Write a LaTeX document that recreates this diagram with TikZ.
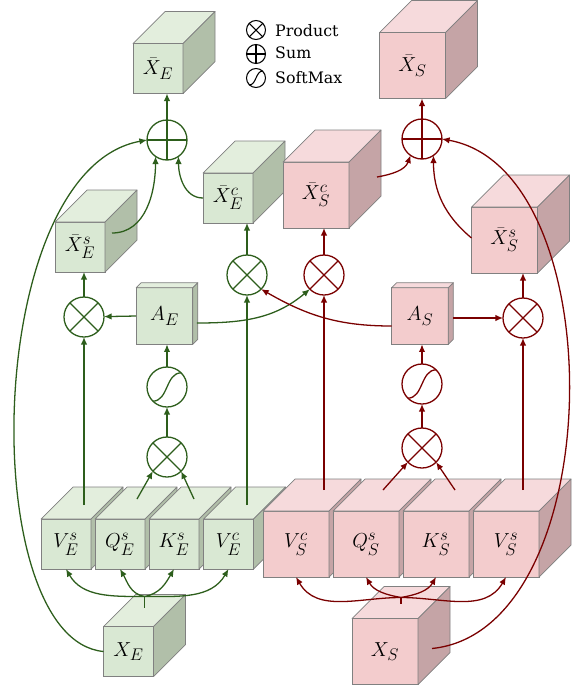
\documentclass[tikz,border=0pt]{standalone}
\usepackage{amsmath}
\usepackage{fontspec}
\usetikzlibrary{arrows.meta,calc}
\newfontfamily\leyenda{DejaVu Serif}
\DeclareMathSizes{17.28}{17.28}{14.4}{12}
\definecolor{lineaE}{RGB}{45,94,28}
\definecolor{lineaS}{RGB}{122,0,0}
\definecolor{frenteE}{RGB}{217,232,211}
\definecolor{tapaE}{RGB}{227,238,221}
\definecolor{ladoE}{RGB}{177,191,169}
\definecolor{frenteS}{RGB}{243,204,205}
\definecolor{tapaS}{RGB}{246,218,220}
\definecolor{ladoS}{RGB}{197,164,166}
\definecolor{borde}{RGB}{128,128,128}
\newcommand{\etiqueta}{\fontsize{17.28}{21}\selectfont}
% caras de arriba y de la derecha de un cubo
\newcommand{\caras}[5]{%
  \filldraw[fill=#4,draw=borde,line width=0.6pt,line join=round] (#1.north west) -- ++(#2,#3) -- ([shift={(#2,#3)}]#1.north east) -- (#1.north east) -- cycle;
  \filldraw[fill=#5,draw=borde,line width=0.6pt,line join=round] (#1.north east) -- ([shift={(#2,#3)}]#1.north east) -- ([shift={(#2,#3)}]#1.south east) -- (#1.south east) -- cycle;}
% simbolos dentro de los circulos
\newcommand{\prodop}[2]{\draw[#2] (#1.north west) -- (#1.south east) (#1.north east) -- (#1.south west);}
\newcommand{\sumop}[2]{\draw[#2] (#1.north) -- (#1.south) (#1.west) -- (#1.east);}
\newcommand{\softop}[2]{\draw[#2] (#1.south west) .. controls ($(#1.south west)!0.55!(#1.south east)$) and ($(#1.north west)!0.45!(#1.north east)$) .. (#1.north east);}

\begin{document}
\begin{tikzpicture}[x=0.03cm,y=0.03cm,
  cuboE/.style={draw=borde,fill=frenteE,line width=0.6pt,minimum size=1.5cm,inner sep=0pt,outer sep=0pt,font=\etiqueta},
  cuboS/.style={cuboE,fill=frenteS,minimum size=1.98cm},
  cajaE/.style={cuboE,minimum size=1.7cm},
  cajaS/.style={cuboS,minimum size=1.7cm},
  opE/.style={circle,draw=lineaE,line width=1.1pt,minimum size=1.2cm,inner sep=0pt,outer sep=0pt},
  opS/.style={opE,draw=lineaS},
  flechaE/.style={-{Latex[length=6.5pt,width=5.5pt]},lineaE,line width=1.1pt},
  flechaS/.style={-{Latex[length=6.5pt,width=5.5pt]},lineaS,line width=1.1pt},
  simb/.style={circle,draw,line width=0.9pt,minimum size=0.57cm,inner sep=0pt},
  texto/.style={anchor=base west,inner sep=0pt,font=\leyenda\fontsize{13.5}{16}\selectfont}]
  \useasboundingbox (0,0) rectangle (576,-686);

  % Leyenda
  \node[simb] (lgP) at (256,-30) {}; \prodop{lgP}{line width=0.9pt}
  \node[simb] (lgS) at (256,-54) {}; \sumop{lgS}{line width=0.9pt}
  \node[simb] (lgM) at (256,-78) {}; \softop{lgM}{line width=0.9pt}
  \node[texto] (tP) at (275,-36) {Product};
  \node[texto] (tS) at (275,-58.5) {Sum};
  \node[texto] (tM) at (275,-83) {SoftMax};

  % Entradas
  \node[cuboE] (xE) at (128.5,-651.5) {$X_E$}; \caras{xE}{32}{32}{tapaE}{ladoE}
  \node[cuboS] (xS) at (385,-651.5) {$X_S$}; \caras{xS}{32}{32}{tapaS}{ladoS}

  % Fila de proyecciones
  \node[cuboE] (vEs) at (66,-544) {$V^s_E$}; \caras{vEs}{32}{32}{tapaE}{ladoE}
  \node[cuboE] (qEs) at (120,-544) {$Q^s_E$}; \caras{qEs}{32}{32}{tapaE}{ladoE}
  \node[cuboE] (kEs) at (174,-544) {$K^s_E$}; \caras{kEs}{32}{32}{tapaE}{ladoE}
  \node[cuboE] (vEc) at (228.5,-544) {$V^c_E$}; \caras{vEc}{32}{32}{tapaE}{ladoE}
  \node[cuboS] (vSc) at (296,-544) {$V^c_S$}; \caras{vSc}{32}{32}{tapaS}{ladoS}
  \node[cuboS] (qSs) at (366,-544) {$Q^s_S$}; \caras{qSs}{32}{32}{tapaS}{ladoS}
  \node[cuboS] (kSs) at (436,-544) {$K^s_S$}; \caras{kSs}{32}{32}{tapaS}{ladoS}
  \node[cuboS] (vSs) at (506,-544) {$V^s_S$}; \caras{vSs}{32}{32}{tapaS}{ladoS}

  % Atencion
  \node[cajaE] (aE) at (164.5,-316) {$A_E$}; \caras{aE}{5}{5}{tapaE}{ladoE}
  \node[cajaS] (aS) at (420,-316) {$A_S$}; \caras{aS}{5}{5}{tapaS}{ladoS}

  % Salidas
  \node[cuboE] (xbEs) at (80,-247) {$\bar{X}^s_E$}; \caras{xbEs}{32}{32}{tapaE}{ladoE}
  \node[cuboE] (xbEc) at (228,-198) {$\bar{X}^c_E$}; \caras{xbEc}{32}{32}{tapaE}{ladoE}
  \node[cuboS] (xbSc) at (316,-195) {$\bar{X}^c_S$}; \caras{xbSc}{32}{32}{tapaS}{ladoS}
  \node[cuboS] (xbSs) at (504.5,-240) {$\bar{X}^s_S$}; \caras{xbSs}{32}{32}{tapaS}{ladoS}
  \node[cuboE] (xbE) at (158,-68.5) {$\bar{X}_E$}; \caras{xbE}{32}{32}{tapaE}{ladoE}
  \node[cuboS] (xbS) at (412.5,-65.5) {$\bar{X}_S$}; \caras{xbS}{32}{32}{tapaS}{ladoS}

  % Operaciones
  \node[opE] (prodE) at (167,-457) {}; \prodop{prodE}{lineaE,line width=1.1pt}
  \node[opE] (smE) at (167,-387) {}; \softop{smE}{lineaE,line width=1.1pt}
  \node[opE] (prodEs) at (84,-317) {}; \prodop{prodEs}{lineaE,line width=1.1pt}
  \node[opE] (prodEc) at (247,-275) {}; \prodop{prodEc}{lineaE,line width=1.1pt}
  \node[opE] (sumE) at (167,-140) {}; \sumop{sumE}{lineaE,line width=1.1pt}
  \node[opS] (prodS) at (422,-448) {}; \prodop{prodS}{lineaS,line width=1.1pt}
  \node[opS] (smS) at (422,-384) {}; \softop{smS}{lineaS,line width=1.1pt}
  \node[opS] (prodSs) at (523,-318) {}; \prodop{prodSs}{lineaS,line width=1.1pt}
  \node[opS] (prodSc) at (324,-275) {}; \prodop{prodSc}{lineaS,line width=1.1pt}
  \node[opS] (sumS) at (422,-139) {}; \sumop{sumS}{lineaS,line width=1.1pt}

  % Rama E
  \coordinate (tE) at ($(xE.north)+(16,19)$);
  \coordinate (jE) at ($(xE.north)+(16,30)$);
  \draw[lineaE,line width=1.1pt] (tE) -- (jE);
  \draw[flechaE] (jE) to[out=180,in=-60] (vEs.south);
  \draw[flechaE] (jE) to[out=170,in=-60] (qEs.south);
  \draw[flechaE] (jE) to[out=10,in=-120] (kEs.south);
  \draw[flechaE] (jE) to[out=0,in=-120] (vEc.south);
  \draw[flechaE] ($(vEs.north)+(18,14)$) -- (prodEs);
  \draw[flechaE] ($(qEs.north)+(17,20)$) -- (prodE.south west);
  \draw[flechaE] ($(kEs.north)+(20,20)$) -- (prodE.south east);
  \draw[flechaE] ($(vEc.north)+(18.5,14)$) -- (prodEc);
  \draw[flechaE] (prodE) -- (smE);
  \draw[flechaE] (smE) -- (smE |- aE.south);
  \draw[flechaE] (aE.west) -- (prodEs);
  \draw[flechaE] ($(aE.east)+(4,-7)$) to[out=0,in=-140] (prodSc.-135);
  \draw[flechaE] (prodEs) -- (prodEs |- xbEs.south);
  \draw[flechaE] (prodEc) -- (prodEc |- xbEc.south);
  \draw[flechaE] ($(xbEs.east)+(7,14)$) to[out=0,in=-90] (sumE.-125);
  \draw[flechaE] (xbEc.west) to[out=180,in=-90] (sumE.-55);
  \draw[flechaE] (sumE) -- (sumE |- xbE.south);
  \draw[flechaE] (xE.west) .. controls +(-128,12) and +(-165,-30) .. (sumE.west);

  % Rama S
  \coordinate (tS) at ($(xS.north)+(16,15)$);
  \coordinate (jS) at ($(xS.north)+(16,21)$);
  \draw[lineaS,line width=1.1pt] (tS) -- (jS);
  \draw[flechaS] (jS) to[out=180,in=-60] (vSc.south);
  \draw[flechaS] (jS) to[out=170,in=-60] (qSs.south);
  \draw[flechaS] (jS) to[out=10,in=-120] (kSs.south);
  \draw[flechaS] (jS) to[out=0,in=-120] (vSs.south);
  \draw[flechaS] ($(vSc.north)+(28,21)$) -- (prodSc);
  \draw[flechaS] ($(qSs.north)+(17,21)$) -- (prodS.south west);
  \draw[flechaS] ($(kSs.north)+(19,21)$) -- (prodS.south east);
  \draw[flechaS] ($(vSs.north)+(17,21)$) -- (prodSs);
  \draw[flechaS] (prodS) -- (smS);
  \draw[flechaS] (smS) -- (smS |- aS.south);
  \draw[flechaS] ($(aS.east)+(5,-2)$) -- (prodSs);
  \draw[flechaS] ($(aS.west)+(0,-10)$) to[out=180,in=-30] (prodEc.-45);
  \draw[flechaS] (prodSc) -- (prodSc |- xbSc.south);
  \draw[flechaS] (prodSs) -- (prodSs |- xbSs.south);
  \draw[flechaS] ($(xbSc.east)+(28,18)$) to[out=10,in=-110] (sumS.-125);
  \draw[flechaS] ($(xbSs.west)+(0,2)$) to[out=140,in=-90] (sumS.-55);
  \draw[flechaS] (sumS) -- (sumS |- xbS.south);
  \draw[flechaS] ($(xS.east)+(14,3)$) .. controls +(178,18) and +(173,-31) .. (sumS.east);
\end{tikzpicture}
\end{document}
